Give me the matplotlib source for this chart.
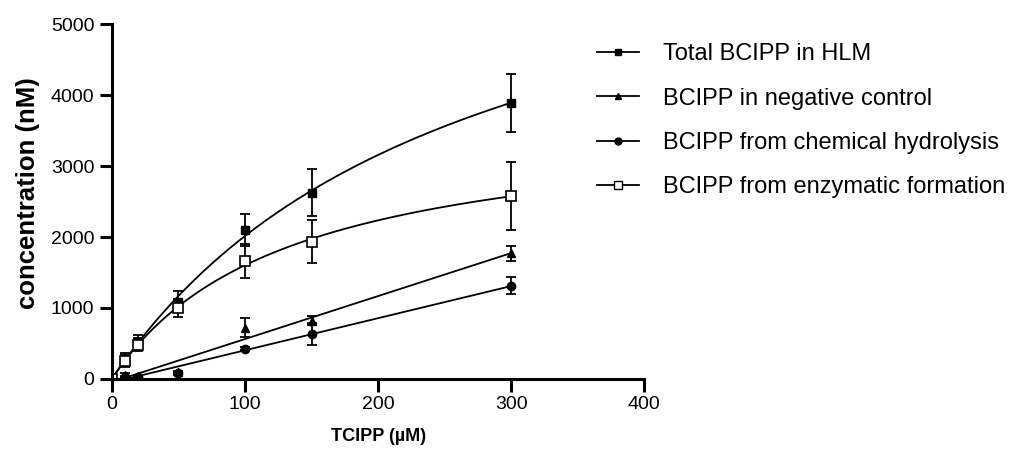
import numpy as np
import matplotlib
matplotlib.use("Agg")
import matplotlib.pyplot as plt

plt.rcParams['font.family'] = ['Liberation Sans', 'DejaVu Sans']

# TCIPP concentrations (uM)
tcipp = np.array([0, 10, 20, 50, 100, 150, 300])

# BCIPP concentrations (nM)
total_hlm = np.array([0, 280, 526, 1090, 2099, 2624, 3892])
total_hlm_err = np.array([0, 90, 90, 150, 230, 330, 410])
neg_control = np.array([0, 60, 40, 90, 723, 821, 1770])
neg_control_err = np.array([0, 20, 20, 20, 130, 60, 110])
chem_hydro = np.array([0, 20, 30, 80, 423, 634, 1315])
chem_hydro_err = np.array([0, 10, 10, 20, 20, 150, 115])
enzymatic = np.array([0, 250, 480, 1000, 1667, 1934, 2577])
enzymatic_err = np.array([0, 80, 90, 130, 240, 300, 480])

labels = ["Total BCIPP in HLM", "BCIPP in negative control",
          "BCIPP from chemical hydrolysis", "BCIPP from enzymatic formation"]


def mm_fit(x, y):
    # Michaelis-Menten fit: grid search on Km, least squares on Vmax
    best = None
    for km in np.linspace(10, 1000, 2000):
        f = x / (km + x)
        vmax = np.dot(f, y) / np.dot(f, f)
        sse = np.sum((y - vmax * f) ** 2)
        if best is None or sse < best[0]:
            best = (sse, km, vmax)
    return best[1], best[2]


xs = np.linspace(0, 300, 300)

fig = plt.figure(figsize=(10.26, 4.57), dpi=100)
ax = fig.add_axes([0.109, 0.171, 0.519, 0.776])

kw = dict(color='black', linewidth=1.3)
ekw = dict(fmt='none', ecolor='black', elinewidth=1.3, capsize=3.5, capthick=1.3)

# fitted curves
km, vmax = mm_fit(tcipp, total_hlm)
ax.plot(xs, vmax * xs / (km + xs), **kw)
km, vmax = mm_fit(tcipp, enzymatic)
ax.plot(xs, vmax * xs / (km + xs), **kw)
for ys in (neg_control, chem_hydro):
    slope, icpt = np.polyfit(tcipp, ys, 1)
    ax.plot(xs, slope * xs + icpt, **kw)

# data points with error bars
ax.errorbar(tcipp, total_hlm, yerr=total_hlm_err, **ekw)
ax.errorbar(tcipp, neg_control, yerr=neg_control_err, **ekw)
ax.errorbar(tcipp, chem_hydro, yerr=chem_hydro_err, **ekw)
ax.errorbar(tcipp, enzymatic, yerr=enzymatic_err, **ekw)
ax.plot(tcipp, total_hlm, 's', color='black', markersize=6)
ax.plot(tcipp, neg_control, '^', color='black', markersize=6)
ax.plot(tcipp, chem_hydro, 'o', color='black', markersize=6)
ax.plot(tcipp, enzymatic, 's', markerfacecolor='white', markeredgecolor='black',
        markeredgewidth=1.2, markersize=7)

# legend handles
handles = [
    plt.Line2D([], [], color='black', lw=1.3, marker='s', markersize=5),
    plt.Line2D([], [], color='black', lw=1.3, marker='^', markersize=5),
    plt.Line2D([], [], color='black', lw=1.3, marker='o', markersize=5),
    plt.Line2D([], [], color='black', lw=1.3, marker='s', markersize=6,
               markerfacecolor='white'),
]
fig.legend(handles, labels, loc='upper left', bbox_to_anchor=(0.561, 0.952),
           frameon=False, fontsize=17, handlelength=1.8, handletextpad=1.0,
           labelspacing=0.95)

ax.set_xlim(0, 400)
ax.set_ylim(0, 5000)
ax.set_xticks([0, 100, 200, 300, 400])
ax.set_yticks([0, 1000, 2000, 3000, 4000, 5000])
ax.spines['top'].set_visible(False)
ax.spines['right'].set_visible(False)
for s in ('left', 'bottom'):
    ax.spines[s].set_linewidth(2.2)
ax.tick_params(width=2.2, length=9, pad=3.5, labelsize=14, direction='out')
ax.set_xlabel("TCIPP (µM)", fontsize=13, fontweight='bold', labelpad=11)
ax.set_ylabel("concentration (nM)", fontsize=18.5, fontweight='bold', labelpad=8)
ax.yaxis.label.set_y(0.5225)

fig.savefig("out.png", dpi=100)
